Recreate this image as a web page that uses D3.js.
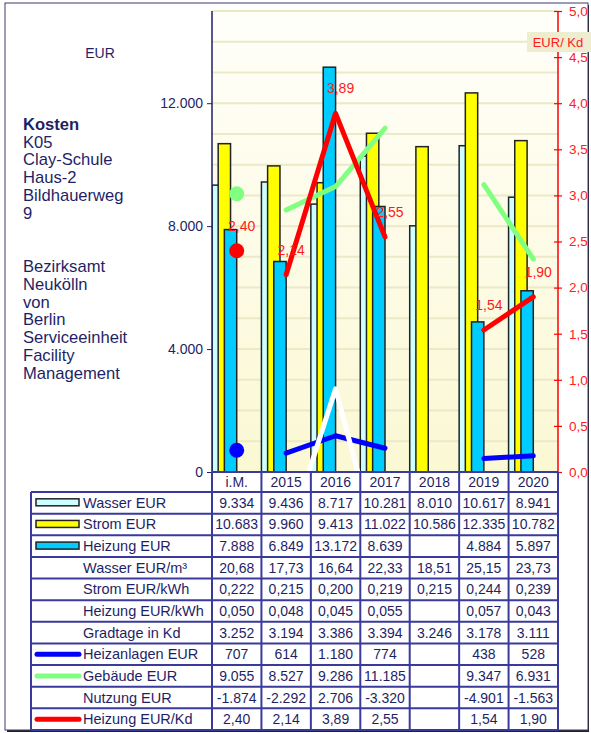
<!DOCTYPE html>
<html><head><meta charset="utf-8">
<script src="https://cdn.jsdelivr.net/npm/d3@7"></script>
<style>
html,body{margin:0;padding:0;background:#fff;}
svg{display:block;font-family:"Liberation Sans",Arial,sans-serif;}
</style></head>
<body>
<svg id="chart" width="591" height="733"></svg>
<script>
// ---- data ----
const categories = ["i.M.","2015","2016","2017","2018","2019","2020"];
const wasserEUR = [9334, 9436, 8717, 10281, 8010, 10617, 8941];
const stromEUR = [10683, 9960, 9413, 11022, 10586, 12335, 10782];
const heizungEUR = [7888, 6849, 13172, 8639, null, 4884, 5897];
const wasserPerM3 = [20.68, 17.73, 16.64, 22.33, 18.51, 25.15, 23.73];
const stromPerKWh = [0.222, 0.215, 0.200, 0.219, 0.215, 0.244, 0.239];
const heizungPerKWh = [0.050, 0.048, 0.045, 0.055, null, 0.057, 0.043];
const gradtage = [3252, 3194, 3386, 3394, 3246, 3178, 3111];
const heizanlagenEUR = [707, 614, 1180, 774, null, 438, 528];
const gebaeudeEUR = [9055, 8527, 9286, 11185, null, 9347, 6931];
const nutzungEUR = [-1874, -2292, 2706, -3320, null, -4901, -1563];
const heizungPerKd = [2.40, 2.14, 3.89, 2.55, null, 1.54, 1.90];
const leftTicks = [0, 4000, 8000, 12000];
const rightTicks = [0, 0.5, 1, 1.5, 2, 2.5, 3, 3.5, 4, 4.5, 5];
const titleLines = ["Kosten","K05","Clay-Schule","Haus-2","Bildhauerweg","9"];
const ownerLines = ["Bezirksamt","Neukölln","von","Berlin","Serviceeinheit","Facility","Management"];

// ---- setup ----
const navy = "#1f1f66", grid = "#3a3a9c";
const loc = d3.formatLocale({decimal:",", thousands:".", grouping:[3], currency:["","€"], minus:"-"});
const fInt = loc.format(",.0f"), f1 = loc.format(".1f"), f2 = loc.format(".2f"), f3 = loc.format(".3f");

const svg = d3.select("#chart");
const L = 212, R = 558, T = 11, B = 472;
const x = d3.scaleBand().domain(categories).range([L, R]).padding(0);
const yL = d3.scaleLinear().domain([0, 15000]).range([B, T]);
const yR = d3.scaleLinear().domain([0, 5]).range([B, T]);
const bw = x.bandwidth();
const barW = bw / 4, barOff = barW / 2;
const cx = c => x(c) + bw / 2;

// frame
svg.append("rect").attr("x",7).attr("y",5).attr("width",582).attr("height",727).attr("fill","#222");
svg.append("rect").attr("x",5).attr("y",3).attr("width",583).attr("height",727).attr("fill","#fff").attr("stroke","#3a3a6a").attr("stroke-width",1);

const defs = svg.append("defs");
const grad = defs.append("linearGradient").attr("id","bg").attr("x1",0).attr("y1",0).attr("x2",0).attr("y2",1);
grad.append("stop").attr("offset","0%").attr("stop-color","#fffffa");
grad.append("stop").attr("offset","100%").attr("stop-color","#fbf8d4");
defs.append("clipPath").attr("id","plotclip").append("rect").attr("x",L).attr("y",T).attr("width",R-L).attr("height",B-T);

svg.append("rect").attr("x",L).attr("y",T).attr("width",R-L).attr("height",B-T).attr("fill","url(#bg)");

// gridlines
svg.append("g").selectAll("line").data(d3.range(1000, 15001, 1000)).join("line")
  .attr("x1",L).attr("x2",R).attr("y1",d=>yL(d)).attr("y2",d=>yL(d))
  .attr("stroke","#ebe9c6").attr("stroke-width",2);

// bars
const barSeries = [
  {vals: wasserEUR, fill: "#ccffff"},
  {vals: stromEUR, fill: "#ffff00"},
  {vals: heizungEUR, fill: "#00ccff"}
];
const plot = svg.append("g").attr("clip-path","url(#plotclip)");
barSeries.forEach((s, i) => {
  plot.append("g").selectAll("rect")
    .data(categories.map((c, k) => ({c, v: s.vals[k]})).filter(d => d.v != null))
    .join("rect")
    .attr("x", d => x(d.c) + i * barOff)
    .attr("width", barW)
    .attr("y", d => yL(d.v))
    .attr("height", d => B - yL(d.v))
    .attr("fill", s.fill).attr("stroke", "#222").attr("stroke-width", 1.5);
});

// lines
const lineSeries = [
  {vals: heizanlagenEUR, color: "#0000ff", y: yL},
  {vals: gebaeudeEUR, color: "#80ff80", y: yL},
  {vals: nutzungEUR, color: "#ffffff", y: yL},
  {vals: heizungPerKd, color: "#ff0000", y: yR}
];
lineSeries.forEach(s => {
  const pts = categories.map((c, k) => ({c, v: s.vals[k], k}));
  const line = d3.line().defined(d => d.v != null).x(d => cx(d.c)).y(d => s.y(d.v));
  plot.append("path").datum(pts.slice(1))
    .attr("d", line).attr("fill","none").attr("stroke", s.color)
    .attr("stroke-width", 5).attr("stroke-linecap","round").attr("stroke-linejoin","round");
  plot.append("circle").attr("cx", cx(pts[0].c)).attr("cy", s.y(pts[0].v)).attr("r", 7.5).attr("fill", s.color);
});

// red labels
svg.append("g").selectAll("text")
  .data(categories.map((c, k) => ({c, v: heizungPerKd[k]})).filter(d => d.v != null))
  .join("text")
  .attr("x", d => cx(d.c) + 5).attr("y", d => yR(d.v) - 20)
  .attr("text-anchor","middle").attr("font-size", 14).attr("fill","#ff1a1a")
  .text(d => f2(d.v));

// left axis
const axL = svg.append("g").attr("transform",`translate(${L},0)`)
  .call(d3.axisLeft(yL).tickValues(leftTicks).tickSize(5).tickSizeOuter(0).tickPadding(4).tickFormat(fInt));
axL.select(".domain").remove();
axL.selectAll("line").attr("stroke", navy);
axL.selectAll("text").attr("fill", navy).attr("font-size", 14).attr("font-family","Liberation Sans, Arial, sans-serif");
svg.append("line").attr("x1",L).attr("x2",L).attr("y1",T).attr("y2",B).attr("stroke",navy).attr("stroke-width",1.5);

// right axis
const axR = svg.append("g").attr("transform",`translate(${R},0)`)
  .call(d3.axisRight(yR).tickValues(rightTicks).tickSize(4).tickSizeOuter(0).tickPadding(7).tickFormat(f1));
axR.select(".domain").remove();
axR.selectAll(".tick line").attr("x1",-4).attr("stroke","#ff0000").attr("stroke-width",1.2);
axR.selectAll("text").attr("fill","#ff2020").attr("font-size", 13.5).attr("font-family","Liberation Sans, Arial, sans-serif");
svg.append("line").attr("x1",R).attr("x2",R).attr("y1",T).attr("y2",B).attr("stroke","#ff0000").attr("stroke-width",1.5);

// axis titles
svg.append("text").attr("x",100).attr("y",58).attr("text-anchor","middle").attr("font-size",14).attr("fill",navy).text("EUR");
svg.append("rect").attr("x",527).attr("y",32).attr("width",64).attr("height",20).attr("fill","#efedcf");
svg.append("text").attr("x",558).attr("y",47).attr("text-anchor","middle").attr("font-size",13).attr("fill","#ff1a1a").text("EUR/ Kd");

// left text block
const tb = svg.append("text").attr("font-size",16.6).attr("fill",navy);
titleLines.forEach((t, i) => {
  tb.append("tspan").attr("x",23).attr("y",130 + i * 17.7).attr("font-weight", i === 0 ? "bold" : "normal").text(t);
});
const ob = svg.append("text").attr("font-size",16.6).attr("fill",navy);
ownerLines.forEach((t, i) => {
  ob.append("tspan").attr("x",23).attr("y",272 + i * 17.8).text(t);
});

// table
const rows = [
  {label:"Wasser EUR", vals: wasserEUR, fmt: fInt, sym:"bar", color:"#ccffff"},
  {label:"Strom EUR", vals: stromEUR, fmt: fInt, sym:"bar", color:"#ffff00"},
  {label:"Heizung EUR", vals: heizungEUR, fmt: fInt, sym:"bar", color:"#00ccff"},
  {label:"Wasser EUR/m³", vals: wasserPerM3, fmt: f2},
  {label:"Strom EUR/kWh", vals: stromPerKWh, fmt: f3},
  {label:"Heizung EUR/kWh", vals: heizungPerKWh, fmt: f3},
  {label:"Gradtage in Kd", vals: gradtage, fmt: fInt},
  {label:"Heizanlagen EUR", vals: heizanlagenEUR, fmt: fInt, sym:"line", color:"#0000ff"},
  {label:"Gebäude EUR", vals: gebaeudeEUR, fmt: fInt, sym:"line", color:"#80ff80"},
  {label:"Nutzung EUR", vals: nutzungEUR, fmt: fInt},
  {label:"Heizung EUR/Kd", vals: heizungPerKd, fmt: f2, sym:"line", color:"#ff0000"}
];
const tL = 31, hTop = B, hBot = 492, tBot = 730;
const rowH = (tBot - hBot) / rows.length;
const tg = svg.append("g");
// header
categories.forEach(c => {
  tg.append("text").attr("x", cx(c)).attr("y", hBot - 5).attr("text-anchor","middle")
    .attr("font-size",14).attr("fill",navy).text(c);
});
rows.forEach((r, i) => {
  const y0 = hBot + i * rowH, ym = y0 + rowH / 2;
  if (r.sym === "bar") {
    tg.append("rect").attr("x",36).attr("y",ym - 4).attr("width",43).attr("height",7)
      .attr("fill",r.color).attr("stroke","#222").attr("stroke-width",1.5);
  } else if (r.sym === "line") {
    tg.append("line").attr("x1",37).attr("x2",79).attr("y1",ym).attr("y2",ym)
      .attr("stroke",r.color).attr("stroke-width",5).attr("stroke-linecap","round");
  }
  tg.append("text").attr("x",83).attr("y",ym + 5).attr("font-size",14.5).attr("fill",navy).text(r.label);
  categories.forEach((c, k) => {
    if (r.vals[k] == null) return;
    tg.append("text").attr("x", cx(c)).attr("y", ym + 5).attr("text-anchor","middle")
      .attr("font-size",14).attr("fill",navy).text(r.fmt(r.vals[k]));
  });
});
// table grid
const gl = tg.append("g").attr("stroke",grid).attr("stroke-width",2);
gl.append("line").attr("x1",L).attr("x2",R).attr("y1",hTop).attr("y2",hTop);
d3.range(rows.length + 1).forEach(i => {
  const yy = hBot + i * rowH;
  gl.append("line").attr("x1",tL).attr("x2",R).attr("y1",yy).attr("y2",yy);
});
gl.append("line").attr("x1",tL).attr("x2",tL).attr("y1",hBot).attr("y2",tBot);
categories.concat([null]).forEach((c, k) => {
  const xx = c == null ? R : x(c);
  gl.append("line").attr("x1",xx).attr("x2",xx).attr("y1",hTop).attr("y2",tBot);
});
</script>
</body></html>
